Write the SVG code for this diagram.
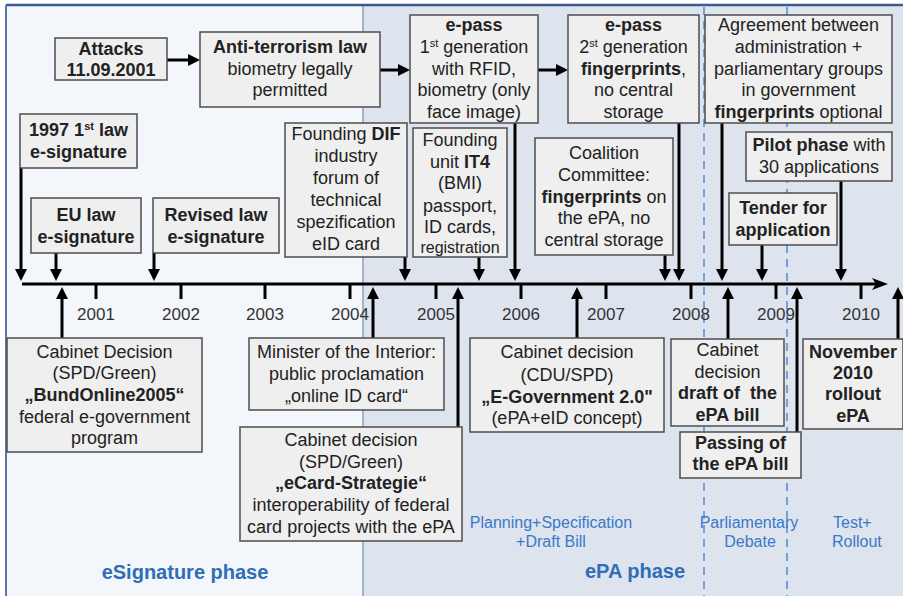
<svg xmlns="http://www.w3.org/2000/svg" width="903" height="596" viewBox="0 0 903 596">
<defs>
<style>
text { font-family: "Liberation Sans", Arial, sans-serif; fill: #222; }
.t { font-size: 18px; text-anchor: middle; }
.b { font-weight: bold; }
.sm { font-size: 16px; }
.sup { font-size: 11px; }
.box { fill: #efefef; stroke: #4d4d4d; stroke-width: 1.5; }
.yr { font-size: 17px; text-anchor: middle; fill: #333; }
.con { stroke: #000; stroke-width: 3; fill: none; marker-end: url(#ah); }
.tick { stroke: #000; stroke-width: 3; }
.ph { fill: #2f6db8; font-weight: bold; font-size: 20px; text-anchor: middle; }
.sub { fill: #3a78c8; font-size: 16px; text-anchor: middle; }
.dash { stroke: #4f8ad8; stroke-width: 1.5; stroke-dasharray: 8 6; }
</style>
<marker id="ah" viewBox="0 0 12 12" refX="8" refY="6" markerWidth="12" markerHeight="12" markerUnits="userSpaceOnUse" orient="auto">
<path d="M0,0 L12,6 L0,12 z" fill="#000"/>
</marker>
<marker id="tl" viewBox="0 0 16 12" refX="6" refY="6" markerWidth="16" markerHeight="12" markerUnits="userSpaceOnUse" orient="auto">
<path d="M0,0 L16,6 L0,12 L4,6 z" fill="#000"/>
</marker>
</defs>

<g id="background">
<rect x="0" y="0" width="903" height="596" fill="#ffffff"/>
<rect x="6" y="5" width="357" height="591" fill="#f3f6fa"/>
<rect x="363" y="5" width="540" height="591" fill="#dde4ee"/>
<line x1="363" y1="5" x2="363" y2="596" stroke="#8c9fbd" stroke-width="1.5"/>
<line x1="6" y1="5" x2="903" y2="5" stroke="#3c5b8c" stroke-width="2.5"/>
<line x1="6" y1="5" x2="6" y2="596" stroke="#5d78a3" stroke-width="2"/>
<line class="dash" x1="704" y1="7" x2="704" y2="596"/>
<line class="dash" x1="787" y1="7" x2="787" y2="596"/>
</g>

<g id="phase-labels">
<text class="ph" x="185" y="579">eSignature phase</text>
<text class="ph" x="635" y="578">ePA phase</text>
<text class="sub" x="551" y="528">Planning+Specification</text>
<text class="sub" x="551" y="547">+Draft Bill</text>
<text class="sub" x="749" y="528">Parliamentary</text>
<text class="sub" x="750" y="547">Debate</text>
<text class="sub" x="833" y="528" style="text-anchor:start">Test+</text>
<text class="sub" x="832" y="547" style="text-anchor:start">Rollout</text>
</g>

<g id="timeline">
<line x1="22" y1="284" x2="878" y2="284" stroke="#000" stroke-width="3" marker-end="url(#tl)"/>
<line class="tick" x1="96" y1="284" x2="96" y2="299"/>
<line class="tick" x1="181" y1="284" x2="181" y2="299"/>
<line class="tick" x1="265" y1="284" x2="265" y2="299"/>
<line class="tick" x1="350" y1="284" x2="350" y2="299"/>
<line class="tick" x1="436" y1="284" x2="436" y2="299"/>
<line class="tick" x1="521" y1="284" x2="521" y2="299"/>
<line class="tick" x1="606" y1="284" x2="606" y2="299"/>
<line class="tick" x1="691" y1="284" x2="691" y2="299"/>
<line class="tick" x1="776" y1="284" x2="776" y2="299"/>
<line class="tick" x1="861" y1="284" x2="861" y2="299"/>
<text class="yr" x="96" y="320">2001</text>
<text class="yr" x="181" y="320">2002</text>
<text class="yr" x="265" y="320">2003</text>
<text class="yr" x="350" y="320">2004</text>
<text class="yr" x="436" y="320">2005</text>
<text class="yr" x="521" y="320">2006</text>
<text class="yr" x="606" y="320">2007</text>
<text class="yr" x="691" y="320">2008</text>
<text class="yr" x="776" y="320">2009</text>
<text class="yr" x="861" y="320">2010</text>
</g>

<g id="connectors">
<line class="con" x1="167" y1="60" x2="196" y2="60"/>
<line class="con" x1="380" y1="70" x2="406" y2="70"/>
<line class="con" x1="538" y1="70" x2="564" y2="70"/>
<line class="con" x1="21" y1="168" x2="21" y2="277"/>
<line class="con" x1="56" y1="253" x2="56" y2="277"/>
<line class="con" x1="154" y1="253" x2="154" y2="277"/>
<line class="con" x1="405" y1="257" x2="405" y2="277"/>
<line class="con" x1="479" y1="257" x2="479" y2="277"/>
<line class="con" x1="515" y1="123" x2="515" y2="277"/>
<line class="con" x1="665" y1="255" x2="665" y2="277"/>
<line class="con" x1="679" y1="123" x2="679" y2="277"/>
<line class="con" x1="722" y1="123" x2="722" y2="277"/>
<line class="con" x1="762" y1="245" x2="762" y2="277"/>
<line class="con" x1="841" y1="181" x2="841" y2="277"/>
<line class="con" x1="62" y1="338" x2="62" y2="291"/>
<line class="con" x1="373" y1="338" x2="373" y2="291"/>
<line class="con" x1="458" y1="427" x2="458" y2="291"/>
<line class="con" x1="577" y1="338" x2="577" y2="291"/>
<line class="con" x1="728" y1="339" x2="728" y2="291"/>
<line class="con" x1="797" y1="432" x2="797" y2="291"/>
<line class="con" x1="898" y1="339" x2="898" y2="291"/>
</g>

<g id="attacks">
<rect class="box" x="55" y="38" width="112" height="42"/>
<text class="t b"><tspan x="111" y="55">Attacks</tspan><tspan x="111" y="76">11.09.2001</tspan></text>
</g>

<g id="anti-terrorism-law">
<rect class="box" x="200" y="32" width="180" height="75"/>
<text class="t"><tspan class="b" x="290" y="53">Anti-terrorism law</tspan><tspan x="290" y="75">biometry legally</tspan><tspan x="290" y="96">permitted</tspan></text>
</g>

<g id="epass-1">
<rect class="box" x="410" y="15" width="128" height="108"/>
<text class="t"><tspan class="b" x="474" y="31">e-pass</tspan><tspan x="474" y="53">1<tspan class="sup" dy="-6">st</tspan><tspan dy="6"> generation</tspan></tspan><tspan x="474" y="75">with RFID,</tspan><tspan x="474" y="96">biometry (only</tspan><tspan x="474" y="118">face image)</tspan></text>
</g>

<g id="epass-2">
<rect class="box" x="568" y="15" width="131" height="108"/>
<text class="t"><tspan class="b" x="633.5" y="31">e-pass</tspan><tspan x="633.5" y="53">2<tspan class="sup" dy="-6">st</tspan><tspan dy="6"> generation</tspan></tspan><tspan x="633.5" y="75"><tspan class="b">fingerprints</tspan>,</tspan><tspan x="633.5" y="96">no central</tspan><tspan x="633.5" y="118">storage</tspan></text>
</g>

<g id="agreement">
<rect class="box" x="705" y="15" width="187" height="108"/>
<text class="t"><tspan x="798.5" y="31">Agreement between</tspan><tspan x="798.5" y="53">administration +</tspan><tspan x="798.5" y="75">parliamentary groups</tspan><tspan x="798.5" y="96">in government</tspan><tspan x="798.5" y="118"><tspan class="b">fingerprints</tspan> optional</tspan></text>
</g>

<g id="pilot-phase">
<rect class="box" x="746" y="132" width="146" height="49"/>
<text class="t"><tspan x="819" y="151"><tspan class="b">Pilot phase</tspan> with</tspan><tspan x="819" y="173">30 applications</tspan></text>
</g>

<g id="tender">
<rect class="box" x="729" y="193" width="108" height="52"/>
<text class="t b"><tspan x="783" y="214">Tender for</tspan><tspan x="783" y="236">application</tspan></text>
</g>

<g id="coalition-committee">
<rect class="box" x="535" y="138" width="138" height="117"/>
<text class="t"><tspan x="604" y="159">Coalition</tspan><tspan x="604" y="181">Committee:</tspan><tspan x="604" y="203"><tspan class="b">fingerprints</tspan> on</tspan><tspan x="604" y="224">the ePA, no</tspan><tspan x="604" y="246">central storage</tspan></text>
</g>

<g id="founding-dif">
<rect class="box" x="285" y="123" width="122" height="134"/>
<text class="t"><tspan x="346" y="139.5">Founding <tspan class="b">DIF</tspan></tspan><tspan x="346" y="161.5">industry</tspan><tspan x="346" y="183.5">forum of</tspan><tspan x="346" y="205.5">technical</tspan><tspan x="346" y="227.5">spezification</tspan><tspan x="346" y="249.5">eID card</tspan></text>
</g>

<g id="founding-it4">
<rect class="box" x="413" y="128" width="94" height="129"/>
<text class="t"><tspan x="460" y="146">Founding</tspan><tspan x="460" y="168">unit <tspan class="b">IT4</tspan></tspan><tspan x="460" y="189">(BMI)</tspan><tspan x="460" y="212">passport,</tspan><tspan x="460" y="233">ID cards,</tspan><tspan class="sm" x="460" y="253">registration</tspan></text>
</g>

<g id="law-1997">
<rect class="box" x="20" y="114" width="117" height="54"/>
<text class="t b"><tspan x="78.5" y="136">1997 1<tspan class="sup" dy="-6">st</tspan><tspan dy="6"> law</tspan></tspan><tspan x="78.5" y="158">e-signature</tspan></text>
</g>

<g id="eu-law">
<rect class="box" x="31" y="198" width="110" height="55"/>
<text class="t b"><tspan x="86" y="221">EU law</tspan><tspan x="86" y="243">e-signature</tspan></text>
</g>

<g id="revised-law">
<rect class="box" x="153" y="198" width="126" height="55"/>
<text class="t b"><tspan x="216" y="221">Revised law</tspan><tspan x="216" y="243">e-signature</tspan></text>
</g>

<g id="bundonline">
<rect class="box" x="7" y="338" width="195" height="114"/>
<text class="t"><tspan x="104.5" y="358">Cabinet Decision</tspan><tspan x="104.5" y="379">(SPD/Green)</tspan><tspan class="b" x="104.5" y="401">„BundOnline2005“</tspan><tspan x="104.5" y="423">federal e-government</tspan><tspan x="104.5" y="444">program</tspan></text>
</g>

<g id="minister">
<rect class="box" x="249" y="338" width="195" height="72"/>
<text class="t"><tspan x="346.5" y="358">Minister of the Interior:</tspan><tspan x="346.5" y="380">public proclamation</tspan><tspan x="346.5" y="402">„online ID card“</tspan></text>
</g>

<g id="ecard-strategie">
<rect class="box" x="240" y="427" width="222" height="114"/>
<text class="t"><tspan x="351" y="446">Cabinet decision</tspan><tspan x="351" y="468">(SPD/Green)</tspan><tspan class="b" x="351" y="489">„eCard-Strategie“</tspan><tspan x="351" y="511">interoperability of federal</tspan><tspan x="351" y="533">card projects with the ePA</tspan></text>
</g>

<g id="e-government">
<rect class="box" x="470" y="338" width="194" height="94"/>
<text class="t"><tspan x="567" y="358">Cabinet decision</tspan><tspan x="567" y="381">(CDU/SPD)</tspan><tspan class="b" x="567" y="403">„E-Government 2.0"</tspan><tspan x="567" y="424">(ePA+eID concept)</tspan></text>
</g>

<g id="draft-bill">
<rect class="box" x="671" y="339" width="113" height="87"/>
<text class="t"><tspan x="727.5" y="356">Cabinet</tspan><tspan x="727.5" y="378">decision</tspan><tspan class="b" x="727.5" y="399">draft of&#160; the</tspan><tspan class="b" x="727.5" y="421">ePA bill</tspan></text>
</g>

<g id="passing">
<rect class="box" x="680" y="432" width="121" height="46"/>
<text class="t b"><tspan x="740.5" y="449">Passing of</tspan><tspan x="740.5" y="470">the ePA bill</tspan></text>
</g>

<g id="november-2010">
<rect class="box" x="803" y="339" width="100" height="90"/>
<text class="t b"><tspan x="853" y="358">November</tspan><tspan x="853" y="379">2010</tspan><tspan x="853" y="400">rollout</tspan><tspan x="853" y="422">ePA</tspan></text>
</g>
</svg>
